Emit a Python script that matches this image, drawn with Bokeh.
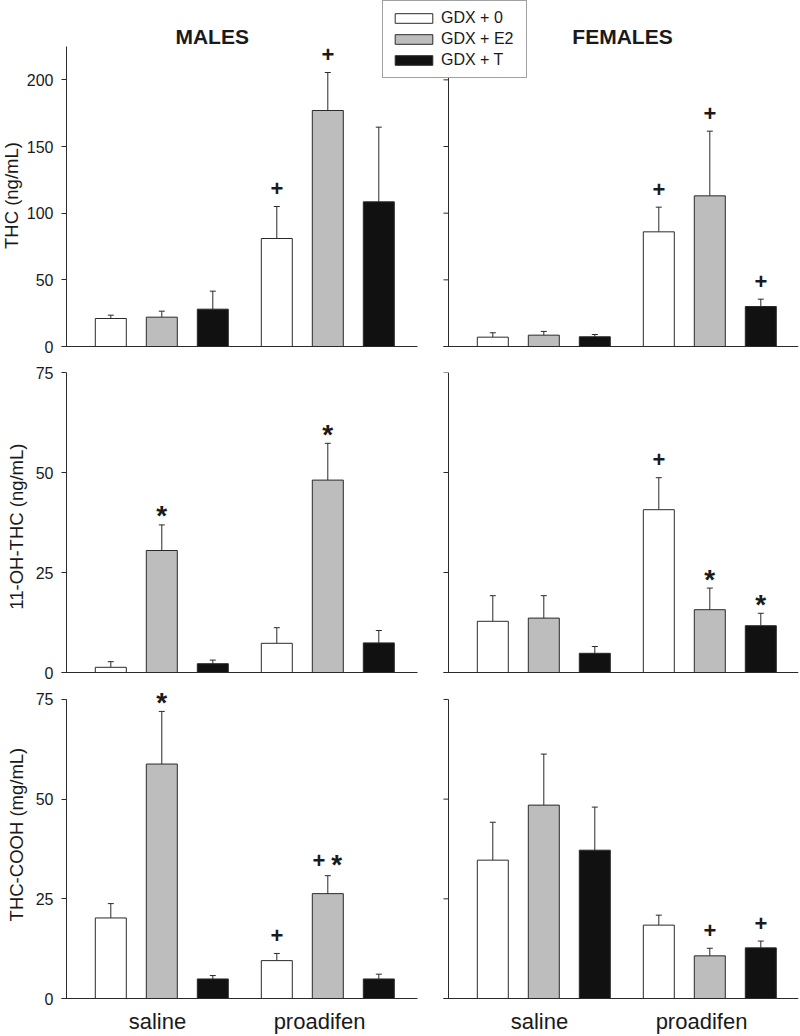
from bokeh.plotting import figure
from bokeh.models import (Range1d, FixedTicker, ColumnDataSource, Whisker, TeeHead,
                          Legend, LegendItem, Label, Title)
from bokeh.layouts import column
from bokeh.core.properties import value
from bokeh.embed import file_html
from bokeh.resources import INLINE

# ---------------- data ----------------
SEXES = ["MALES", "FEMALES"]
DRUGS = ["saline", "proadifen"]
TREATMENTS = ["GDX + 0", "GDX + E2", "GDX + T"]
COLORS = ["#ffffff", "#bdbdbd", "#111111"]

# every list: [male saline, male proadifen, female saline, female proadifen]
THC_GDX0 = [21.0, 81.0, 7.0, 86.0]
THC_GDX0_SEM = [2.5, 24.0, 3.3, 18.5]
THC_GDX0_SIG = ["", "+", "", "+"]
THC_E2 = [22.0, 177.0, 8.5, 113.0]
THC_E2_SEM = [4.5, 28.5, 2.8, 48.5]
THC_E2_SIG = ["", "+", "", "+"]
THC_T = [28.0, 108.5, 7.3, 30.0]
THC_T_SEM = [13.5, 56.0, 1.7, 5.5]
THC_T_SIG = ["", "", "", "+"]

OH_GDX0 = [1.3, 7.3, 12.8, 40.7]
OH_GDX0_SEM = [1.4, 3.9, 6.4, 8.0]
OH_GDX0_SIG = ["", "", "", "+"]
OH_E2 = [30.5, 48.1, 13.6, 15.7]
OH_E2_SEM = [6.4, 9.2, 5.6, 5.4]
OH_E2_SIG = ["*", "*", "", "*"]
OH_T = [2.2, 7.4, 4.8, 11.7]
OH_T_SEM = [0.9, 3.1, 1.7, 3.1]
OH_T_SIG = ["", "", "", "*"]

COOH_GDX0 = [20.2, 9.5, 34.7, 18.4]
COOH_GDX0_SEM = [3.6, 1.8, 9.5, 2.5]
COOH_GDX0_SIG = ["", "+", "", ""]
COOH_E2 = [58.8, 26.3, 48.5, 10.7]
COOH_E2_SEM = [13.2, 4.5, 12.8, 1.9]
COOH_E2_SIG = ["*", "+*", "", "+"]
COOH_T = [4.9, 4.9, 37.2, 12.7]
COOH_T_SEM = [0.85, 1.2, 10.8, 1.7]
COOH_T_SIG = ["", "", "", "+"]

THC_TICKS = [0, 50, 100, 150, 200]
OH_TICKS = [0, 25, 50, 75]
COOH_TICKS = [0, 25, 50, 75]

Y_LABELS = ["THC (ng/mL)", "11-OH-THC (ng/mL)", "THC-COOH (mg/mL)"]

# ---------------- layout constants (pixels) ----------------
FONT = "Liberation Sans"
INK = "#1a1a1a"
LINE = "#2a2a2a"
WIDTH = 800
BORDER_LEFT = 61
BORDER_RIGHT = 2
TICK_LEN = 5
PANEL_OFFSET = 382          # x of the right panel's y axis line
PANEL_LEN = 351             # left x-axis line end relative to its y-axis line
X_END = 732
GROUP_CENTERS = [95.3, 261.3]
BAR_STEP = 51.0
BAR_W = 31.0
LABEL_SHIFT = [-4.5, -8.0]
TITLE_X = [145.7, 556.0]

rows = [
    dict(means=[THC_GDX0, THC_E2, THC_T], sems=[THC_GDX0_SEM, THC_E2_SEM, THC_T_SEM],
         sigs=[THC_GDX0_SIG, THC_E2_SIG, THC_T_SIG], ticks=THC_TICKS, ymax=225,
         px=300, ext=46, btop=0, bbot=12, lab_off=98.5, lab_stand=0),
    dict(means=[OH_GDX0, OH_E2, OH_T], sems=[OH_GDX0_SEM, OH_E2_SEM, OH_T_SEM],
         sigs=[OH_GDX0_SIG, OH_E2_SIG, OH_T_SIG], ticks=OH_TICKS, ymax=75,
         px=300, ext=0, btop=13, bbot=10, lab_off=63.8, lab_stand=8),
    dict(means=[COOH_GDX0, COOH_E2, COOH_T], sems=[COOH_GDX0_SEM, COOH_E2_SEM, COOH_T_SEM],
         sigs=[COOH_GDX0_SIG, COOH_E2_SIG, COOH_T_SIG], ticks=COOH_TICKS, ymax=75,
         px=300, ext=16, btop=0, bbot=36, lab_off=78.1, lab_stand=8),
]


def bar_x(sex, drug, trt):
    return sex * PANEL_OFFSET + GROUP_CENTERS[drug] + (trt - 1) * BAR_STEP


figs = []
for ri, row in enumerate(rows):
    k = row["px"] / row["ymax"]
    y0 = -1.0 / k
    y1 = row["ymax"] + row["ext"] / k
    frame_h = row["px"] + 1 + row["ext"]
    height = row["btop"] + frame_h + row["bbot"]
    p = figure(width=WIDTH, height=height, title=None,
               x_range=Range1d(-TICK_LEN, X_END),
               y_range=Range1d(y0, y1),
               min_border_left=BORDER_LEFT, min_border_right=BORDER_RIGHT,
               min_border_top=row["btop"], min_border_bottom=row["bbot"],
               output_backend="svg", toolbar_location=None)
    p.outline_line_color = None
    p.grid.visible = False
    p.background_fill_color = "white"

    # left y axis (library axis: ticks + labels)
    ya = p.yaxis[0]
    ya.ticker = FixedTicker(ticks=row["ticks"])
    ya.axis_line_color = None
    ya.major_tick_in = TICK_LEN
    ya.major_tick_out = 0
    ya.minor_tick_in = 0
    ya.minor_tick_out = 0
    ya.major_tick_line_color = LINE
    ya.minor_tick_line_color = None
    ya.major_label_text_font = FONT
    ya.major_label_text_font_size = "16px"
    ya.major_label_text_color = INK
    ya.major_label_standoff = 8
    # y label as a side title, positioned along the axis line
    p.add_layout(Title(text=Y_LABELS[ri], align="left", offset=row["lab_off"],
                       vertical_align="top", standoff=row["lab_stand"],
                       text_font=FONT, text_font_size="18.5px",
                       text_font_style="normal", text_color=INK), "left")

    renderers = []
    wx, wlow, wup = [], [], []
    plus_x, plus_y, plus_off, star_x, star_y, star_off = [], [], [], [], [], []
    for t in range(3):
        xs, tops = [], []
        for i in range(4):
            sex, drug = divmod(i, 2)
            x = bar_x(sex, drug, t)
            m = row["means"][t][i]
            e = row["sems"][t][i]
            xs.append(x)
            tops.append(m)
            wx.append(x)
            wlow.append(m)
            wup.append(m + e)
            sig = row["sigs"][t][i]
            both = ("+" in sig) and ("*" in sig)
            if "+" in sig:
                plus_x.append(x - 9 if both else x)
                plus_y.append(m + e)
                plus_off.append(-15 if both else -18)
            if "*" in sig:
                star_x.append(x + 9 if both else x)
                star_y.append(m + e)
                star_off.append(-11 if both else -9)
        src = ColumnDataSource(dict(x=xs, top=tops))
        r = p.vbar(x="x", top="top", bottom=0, width=BAR_W, source=src,
                   fill_color=COLORS[t], line_color=LINE, line_width=1)
        renderers.append(r)

    wsrc = ColumnDataSource(dict(x=wx, lower=wlow, upper=wup))
    p.add_layout(Whisker(source=wsrc, base="x", lower="lower", upper="upper",
                         dimension="height", line_color=LINE, line_width=1,
                         upper_head=TeeHead(size=6, line_color=LINE, line_width=1),
                         lower_head=None))

    # axis lines of both panels and the right panel's ticks
    ymax = row["ymax"]
    p.segment(x0=[0, PANEL_OFFSET], y0=[0, 0], x1=[0, PANEL_OFFSET], y1=[ymax, ymax],
              line_color=LINE, line_width=1)
    p.segment(x0=[-TICK_LEN, PANEL_OFFSET - TICK_LEN], y0=[0, 0],
              x1=[PANEL_LEN, X_END], y1=[0, 0],
              line_color=LINE, line_width=1)
    tk = row["ticks"]
    p.segment(x0=[PANEL_OFFSET - TICK_LEN] * len(tk), y0=tk,
              x1=[PANEL_OFFSET] * len(tk), y1=tk, line_color=LINE, line_width=1)

    # significance markers
    psrc = ColumnDataSource(dict(x=plus_x, y=plus_y, off=plus_off, t=["+"] * len(plus_x)))
    ssrc = ColumnDataSource(dict(x=star_x, y=star_y, off=star_off, t=["*"] * len(star_x)))
    p.text(x="x", y="y", text="t", y_offset="off", source=psrc, text_font=value(FONT),
           text_font_size=value("22px"), text_font_style="bold", text_color=INK,
           text_align="center", text_baseline="middle")
    p.text(x="x", y="y", text="t", y_offset="off", source=ssrc, text_font=value(FONT),
           text_font_size=value("28px"), text_font_style="bold", text_color=INK,
           text_align="center", text_baseline="middle")

    if ri == 0:
        legend = Legend(items=[LegendItem(label=TREATMENTS[t], renderers=[renderers[t]])
                               for t in range(3)],
                        location=(321, 269), orientation="vertical",
                        glyph_width=47, glyph_height=12, label_height=20, label_width=78,
                        spacing=1, padding=7, margin=0, label_standoff=4,
                        label_text_font=FONT, label_text_font_size="16px",
                        label_text_color=INK, border_line_color="#444444",
                        border_line_width=1, background_fill_color="white",
                        background_fill_alpha=1.0)
        p.add_layout(legend)
        for s in range(2):
            p.add_layout(Label(x=TITLE_X[s], y=232.4, text=SEXES[s], text_align="center",
                               text_baseline="middle", text_font=FONT,
                               text_font_size="21px", text_font_style="bold",
                               text_color=INK))

    xa = p.xaxis[0]
    if ri < 2:
        xa.visible = False
    else:
        label_ticks = []
        overrides = {}
        for sex in range(2):
            for d in range(2):
                tx = int(round(sex * PANEL_OFFSET + GROUP_CENTERS[d] + LABEL_SHIFT[d]))
                label_ticks.append(tx)
                overrides[tx] = DRUGS[d]
        xa.ticker = FixedTicker(ticks=label_ticks)
        xa.major_label_overrides = overrides
        xa.axis_line_color = None
        xa.major_tick_line_color = None
        xa.minor_tick_line_color = None
        xa.major_tick_in = 0
        xa.major_tick_out = 0
        xa.minor_tick_in = 0
        xa.minor_tick_out = 0
        xa.major_label_standoff = 9
        xa.major_label_text_font = FONT
        xa.major_label_text_font_size = "22px"
        xa.major_label_text_color = INK
    figs.append(p)

layout = column(*figs, spacing=0)
open("out.html", "w").write(file_html(layout, INLINE))
